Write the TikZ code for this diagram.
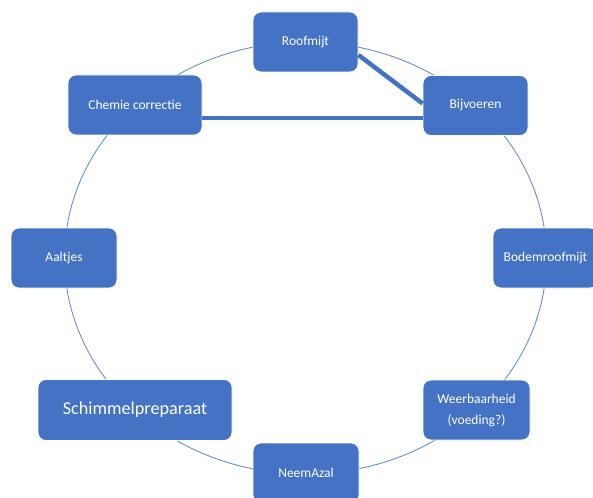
\documentclass[tikz,border=0pt]{standalone}
\usepackage{fontspec}
\setmainfont{Carlito}
\definecolor{boxblue}{HTML}{4472C4}
\definecolor{ringblue}{HTML}{5B82CC}
\tikzset{
  cyclebox/.style={draw=white, line width=0.8pt, fill=boxblue, rounded corners=8pt,
    text=white, font=\fontsize{13.5}{21}\selectfont, align=center,
    minimum width=105pt, minimum height=60pt, inner sep=2pt},
  ring/.style={draw=ringblue, line width=0.8pt},
  linkline/.style={draw=boxblue, line width=4.5pt}
}
\begin{document}
\begin{tikzpicture}[x=1pt,y=-1pt]
\useasboundingbox (0,0) rectangle (593,497);
\clip (0,0) rectangle (593,497);
\draw[ring] (305.5,258) ellipse [x radius=241pt, y radius=216pt];
\node[cyclebox] (roof) at (305.5,42) {Roofmijt};
\node[cyclebox] (bij) at (475.5,105.5) {Bijvoeren};
\node[cyclebox] (bodem) at (545.5,258) {Bodemroofmijt};
\node[cyclebox, minimum width=107pt] (weer) at (476.5,410) {Weerbaarheid\\(voeding?)};
\node[cyclebox, minimum width=106pt] (neem) at (306,473) {NeemAzal};
\node[cyclebox, minimum width=194pt, minimum height=61pt, font=\fontsize{18.2}{21}\selectfont] (schim) at (135,410) {Schimmelpreparaat};
\node[cyclebox, minimum width=106pt] (aal) at (64,258) {Aaltjes};
\node[cyclebox, minimum width=134pt] (chem) at (135,105) {Chemie correctie};
\draw[linkline] ([yshift=-13pt]roof.east) -- ([yshift=2pt]bij.west);
\draw[linkline] ([yshift=-13pt]chem.east) -- ([yshift=-12.5pt]bij.west);
\end{tikzpicture}
\end{document}
